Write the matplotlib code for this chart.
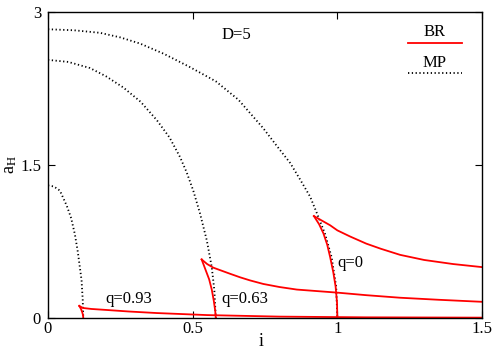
import matplotlib
matplotlib.use("Agg")
import matplotlib.pyplot as plt

plt.rcParams['font.family'] = ['Liberation Serif', 'DejaVu Serif']
plt.rcParams['mathtext.fontset'] = 'custom'
plt.rcParams['mathtext.rm'] = 'Liberation Serif'
plt.rcParams['mathtext.it'] = 'Liberation Serif'

# MP curves (dotted)
mp0_x = [0, 0.09, 0.18, 0.25, 0.318, 0.40, 0.49, 0.58, 0.658, 0.698, 0.744, 0.79,
         0.837, 0.871, 0.906, 0.929, 0.957, 0.98, 0.996, 1.0]
mp0_y = [2.83, 2.82, 2.795, 2.75, 2.69, 2.59, 2.46, 2.32, 2.14, 2.01, 1.86, 1.69,
         1.52, 1.36, 1.19, 1.03, 0.83, 0.60, 0.31, 0.0]
mp63_x = [0, 0.07, 0.145, 0.20, 0.26, 0.32, 0.376, 0.42, 0.456, 0.479, 0.502,
          0.525, 0.549, 0.566, 0.575, 0.58]
mp63_y = [2.53, 2.51, 2.45, 2.37, 2.26, 2.12, 1.94, 1.77, 1.58, 1.43, 1.25,
          1.03, 0.76, 0.50, 0.27, 0.0]
mp93_x = [0, 0.02, 0.041, 0.065, 0.08, 0.093, 0.103, 0.11, 0.116, 0.12, 0.122]
mp93_y = [1.30, 1.29, 1.25, 1.10, 0.98, 0.82, 0.65, 0.50, 0.37, 0.18, 0.0]

# BR curves (red): upper branch from cusp to the right, lower branch from cusp down
br0_up_x = [0.919, 0.95, 0.975, 1.0, 1.044, 1.1, 1.15, 1.217, 1.3, 1.4, 1.5]
br0_up_y = [1.0, 0.95, 0.91, 0.86, 0.80, 0.73, 0.68, 0.62, 0.57, 0.53, 0.50]
br0_lo_x = [0.919, 0.937, 0.952, 0.965, 0.975, 0.986, 0.994, 0.999, 1.0]
br0_lo_y = [1.0, 0.92, 0.83, 0.72, 0.60, 0.45, 0.31, 0.15, 0.0]
br63_up_x = [0.531, 0.55, 0.571, 0.6, 0.629, 0.664, 0.698, 0.744, 0.8, 0.86,
             0.93, 1.0, 1.1, 1.217, 1.35, 1.5]
br63_up_y = [0.575, 0.53, 0.495, 0.465, 0.435, 0.40, 0.37, 0.335, 0.305, 0.28,
             0.265, 0.25, 0.225, 0.20, 0.18, 0.16]
br63_lo_x = [0.531, 0.545, 0.557, 0.566, 0.573, 0.578, 0.58]
br63_lo_y = [0.575, 0.47, 0.38, 0.28, 0.17, 0.07, 0.0]
br93_up_x = [0.108, 0.12, 0.15, 0.203, 0.28, 0.376, 0.55, 0.8, 1.1, 1.5]
br93_up_y = [0.12, 0.10, 0.09, 0.08, 0.065, 0.05, 0.03, 0.015, 0.008, 0.005]
br93_lo_x = [0.108, 0.114, 0.118, 0.121, 0.122]
br93_lo_y = [0.12, 0.09, 0.06, 0.03, 0.0]

fig = plt.figure(figsize=(5, 3.5), dpi=100)
ax = fig.add_axes([0.096, 0.091, 0.868, 0.875])

dot = (0, (0.7, 1.4))
for xs, ys in [(mp0_x, mp0_y), (mp63_x, mp63_y), (mp93_x, mp93_y)]:
    ax.plot(xs, ys, color='black', linestyle=dot, linewidth=1.3)

for xs, ys in [(br0_up_x, br0_up_y), (br0_lo_x, br0_lo_y),
               (br63_up_x, br63_up_y), (br63_lo_x, br63_lo_y),
               (br93_up_x, br93_up_y), (br93_lo_x, br93_lo_y)]:
    ax.plot(xs, ys, color='red', linewidth=1.3)

ax.set_xlim(0, 1.5)
ax.set_ylim(0, 3)
ax.set_xticks([0, 0.5, 1, 1.5])
ax.set_xticklabels(['0', '0.5', '1', '1.5'])
ax.set_yticks([0, 1.5, 3])
ax.set_yticklabels(['0', '1.5', '3'])
ax.tick_params(direction='in', length=5, top=True, right=True, labelsize=12)
ax.tick_params(axis='x', pad=2)
ax.tick_params(axis='y', pad=5)
for s in ax.spines.values():
    s.set_linewidth(1.0)

ax.set_xlabel('i', fontsize=13)
ax.xaxis.set_label_coords(0.49, -0.05)
ax.set_ylabel(r'a$_\mathrm{H}$', fontsize=13)
ax.yaxis.set_label_coords(-0.066, 0.5)

ax.text(0.65, 2.77, 'D=5', fontsize=12, ha='center', va='center')
ax.text(0.2, 0.19, 'q=0.93', fontsize=12, ha='left', va='center')
ax.text(0.6, 0.19, 'q=0.63', fontsize=12, ha='left', va='center')
ax.text(1.0, 0.54, 'q=0', fontsize=12, ha='left', va='center')

# legend drawn by hand in gnuplot style
ax.text(1.335, 2.80, 'BR', fontsize=12, ha='center', va='center')
ax.plot([1.245, 1.43], [2.70, 2.70], color='red', linewidth=1.3)
ax.text(1.335, 2.50, 'MP', fontsize=12, ha='center', va='center')
ax.plot([1.245, 1.43], [2.40, 2.40], color='black', linestyle=dot, linewidth=1.3)

fig.savefig('out.png', dpi=100)
